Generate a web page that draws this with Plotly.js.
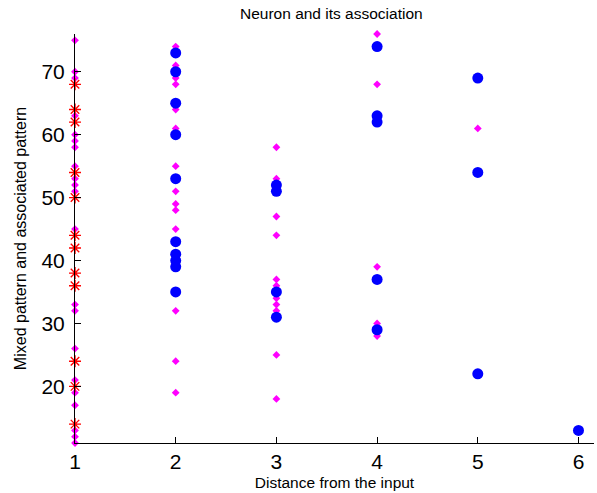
<!DOCTYPE html>
<html>
<head>
<meta charset="utf-8">
<script src="https://cdn.plot.ly/plotly-3.0.1.min.js"></script>
<style>
  html, body { margin: 0; padding: 0; background: #fff; }
  #chart { width: 597px; height: 493px; }
</style>
</head>
<body>
<div id="chart"></div>
<script>
// Mixed pattern (magenta dots)
const mixedX = [1,1,1,1,1,1,1,1,1,1,1,1,1,1,1,1,1,1,1,1,1,
                2,2,2,2,2,2,2,2,2,2,2,2,2,2,
                3,3,3,3,3,3,3,3,3,3,3,
                4,4,4,4,4,
                5];
const mixedY = [75,70,69,63,60,59,58,55,53,52,51,45,33,32,26,21,19,17,13,12,11,
                74,71,69,68,64,61,55,51,49,48,45,32,24,19,
                58,53,47,44,37,36,34,33,32,25,18,
                76,68,39,30,28,
                61];

// Associated pattern (blue circles)
const assocX = [2,2,2,2,2,2,2,2,2,2,
                3,3,3,3,
                4,4,4,4,4,
                5,5,5,
                6];
const assocY = [73,70,65,60,53,43,41,40,39,35,
                52,51,35,31,
                74,63,62,37,29,
                69,54,22,
                13];

// Neuron (red stars)
const neuronX = [1,1,1,1,1,1,1,1,1,1,1,1];
const neuronY = [68,64,62,54,50,44,42,38,36,24,20,14];

const xTicks = [1,2,3,4,5,6];
const yTicks = [20,30,40,50,60,70];

const traces = [
  {
    x: mixedX, y: mixedY, type: 'scatter', mode: 'markers', name: 'mixed',
    marker: { symbol: 'diamond', size: 6, color: '#ff00ff' },
    cliponaxis: false
  },
  {
    x: assocX, y: assocY, type: 'scatter', mode: 'markers', name: 'associated',
    marker: { symbol: 'circle', size: 11, color: '#0000ff' },
    cliponaxis: false
  },
  {
    x: neuronX, y: neuronY, type: 'scatter', mode: 'markers', name: 'neuron',
    marker: { symbol: 'asterisk-open', size: 10, color: '#ff0000', line: { color: '#ff0000', width: 1.4 } },
    cliponaxis: false
  }
];

const fontFam = 'Arial, "Liberation Sans", Helvetica, sans-serif';

const layout = {
  width: 597, height: 493,
  margin: { l: 75, r: 3, t: 34, b: 50 },
  paper_bgcolor: '#ffffff', plot_bgcolor: '#ffffff',
  showlegend: false,
  font: { family: fontFam, color: '#000000' },
  title: {
    text: 'Neuron and its association',
    font: { family: fontFam, size: 15.5, color: '#000000' },
    xref: 'container', x: 0.555, xanchor: 'center',
    yref: 'container', y: 0.972, yanchor: 'middle'
  },
  xaxis: {
    range: [1, 6.154],
    tickvals: xTicks,
    ticktext: xTicks.map(String),
    ticks: 'inside', ticklen: 6, tickwidth: 1, tickcolor: '#000',
    showline: true, linecolor: '#000', linewidth: 1,
    showgrid: false, zeroline: false, mirror: false,
    tickfont: { family: fontFam, size: 21, color: '#000' },
    ticklabelstandoff: 0,
    title: { text: 'Distance from the input', font: { family: fontFam, size: 15.5, color: '#000' }, standoff: 4 },
    fixedrange: true
  },
  yaxis: {
    range: [11, 76],
    tickvals: yTicks,
    ticktext: yTicks.map(String),
    ticks: 'inside', ticklen: 6, tickwidth: 1, tickcolor: '#000',
    showline: true, linecolor: '#000', linewidth: 1,
    showgrid: false, zeroline: false, mirror: false,
    tickfont: { family: fontFam, size: 21, color: '#000' },
    ticklabelstandoff: 5,
    title: { text: 'Mixed pattern and associated pattern', font: { family: fontFam, size: 16, color: '#000' }, standoff: 10 },
    fixedrange: true
  }
};

Plotly.newPlot('chart', traces, layout, { displayModeBar: false, staticPlot: true });
</script>
</body>
</html>
